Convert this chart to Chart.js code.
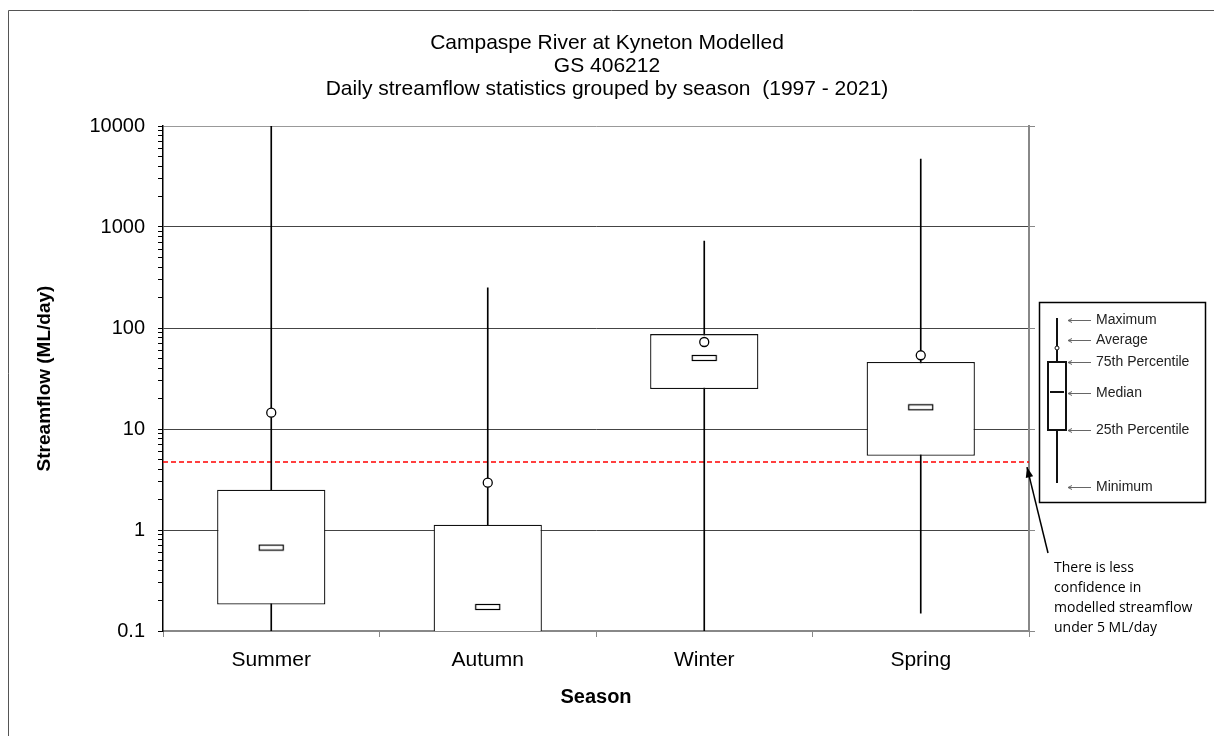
<!DOCTYPE html>
<html>
<head>
<meta charset="utf-8">
<title>Campaspe River at Kyneton Modelled</title>
<script src="https://cdn.jsdelivr.net/npm/chart.js@4.4.1/dist/chart.umd.min.js"></script>
<style>
  html, body { margin: 0; padding: 0; background: #fff; }
  #wrap { width: 1214px; height: 736px; }
</style>
</head>
<body>
<div id="wrap"><canvas id="myChart" width="1214" height="736"></canvas></div>
<script>
// daily streamflow statistics per season (ML/day)
const seasons = ['Summer', 'Autumn', 'Winter', 'Spring'];
const minimum = [0.05, 0.01, 0.05, 0.15];
const pct25 = [0.183, 0.05, 24.9, 5.44];
const median = [0.67, 0.173, 50.5, 16.4];
const pct75 = [2.5, 1.13, 87, 46];
const average = [14.5, 2.94, 72.7, 53.7];
const maximum = [10000, 250, 727, 4700];

const yTicks = [0.1, 1, 10, 100, 1000, 10000];
const yTickLabels = ['0.1', '1', '10', '100', '1000', '10000'];
const threshold = 4.7; // the "5 ML/day" confidence line

const titleLines = [
    'Campaspe River at Kyneton Modelled',
    'GS 406212',
    'Daily streamflow statistics grouped by season  (1997 - 2021)'
];
const noteLines = ['There is less', 'confidence in', 'modelled streamflow', 'under 5 ML/day'];
const keyLabels = ['Maximum', 'Average', '75th Percentile', 'Median', '25th Percentile', 'Minimum'];

const FONT = "'Liberation Sans', Arial, sans-serif";

// minor ticks 1..9 inside every decade, for the little marks on the left axis
const minorTicks = [];
yTicks.slice(0, -1).forEach(d => {
    for (let k = 1; k < 10; k++) minorTicks.push(d * k);
});
minorTicks.push(yTicks[yTicks.length - 1]);

// hollow little rectangle used as the median marker
const medianMark = document.createElement('canvas');
medianMark.width = 27;
medianMark.height = 8;
const mctx = medianMark.getContext('2d');
mctx.fillStyle = '#fff';
mctx.fillRect(1, 1, 25, 6);
mctx.strokeStyle = '#000';
mctx.lineWidth = 1.2;
mctx.strokeRect(1.5, 1.5, 24, 5);

// title, red dashed line, key box, note with arrow and the outer frame
const extras = {
    id: 'extras',
    beforeDatasetsDraw(chart) {
        const { ctx, chartArea: a, scales: { y } } = chart;
        const py = y.getPixelForValue(threshold);
        ctx.save();
        ctx.strokeStyle = '#ff0000';
        ctx.lineWidth = 1.5;
        ctx.setLineDash([5, 3]);
        ctx.beginPath();
        ctx.moveTo(a.left, py);
        ctx.lineTo(a.right, py);
        ctx.stroke();
        ctx.restore();
    },
    afterDraw(chart) {
        const { ctx, chartArea: a, scales: { y } } = chart;
        ctx.save();

        // outer frame (left and top edges only are visible)
        ctx.strokeStyle = '#555';
        ctx.lineWidth = 1;
        ctx.beginPath();
        ctx.moveTo(8.5, 736);
        ctx.lineTo(8.5, 10.5);
        ctx.lineTo(1214, 10.5);
        ctx.stroke();

        // title, centred on the whole picture
        ctx.fillStyle = '#000';
        ctx.font = '21px ' + FONT;
        ctx.textAlign = 'center';
        ctx.textBaseline = 'middle';
        titleLines.forEach((t, i) => ctx.fillText(t, chart.width / 2, 43 + i * 23));
        ctx.textAlign = 'left';

        // key box
        const kx = a.right + 10, ky = 302, kw = 166, kh = 200;
        ctx.strokeStyle = '#000';
        ctx.lineWidth = 1.5;
        ctx.strokeRect(kx + 0.5, ky + 0.5, kw, kh);

        const cx = kx + 18;
        ctx.lineWidth = 2;
        ctx.strokeStyle = '#111';
        ctx.beginPath();
        ctx.moveTo(cx, ky + 16);
        ctx.lineTo(cx, ky + 181);
        ctx.stroke();
        ctx.fillStyle = '#fff';
        ctx.fillRect(kx + 9, ky + 60, 18, 68);
        ctx.strokeRect(kx + 9, ky + 60, 18, 68);
        ctx.beginPath();
        ctx.moveTo(kx + 11, ky + 90);
        ctx.lineTo(kx + 25, ky + 90);
        ctx.stroke();
        ctx.lineWidth = 1;
        ctx.beginPath();
        ctx.arc(cx, ky + 46, 2, 0, Math.PI * 2);
        ctx.fill();
        ctx.stroke();

        const keyY = [18, 38, 60, 91, 128, 185];
        ctx.font = '14px ' + FONT;
        ctx.textBaseline = 'middle';
        keyLabels.forEach((lab, i) => {
            const ly = ky + keyY[i] + 0.5;
            ctx.strokeStyle = '#666';
            ctx.lineWidth = 1;
            ctx.beginPath();
            ctx.moveTo(kx + 29, ly);
            ctx.lineTo(kx + 52, ly);
            ctx.moveTo(kx + 33, ly - 2);
            ctx.lineTo(kx + 29, ly);
            ctx.lineTo(kx + 33, ly + 2);
            ctx.stroke();
            ctx.fillStyle = '#222';
            ctx.fillText(lab, kx + 57, ly);
        });

        // note and arrow pointing at the end of the red line
        const hx = a.right - 2, hy = y.getPixelForValue(threshold) + 5;
        const tx = a.right + 19, ty = 553;
        ctx.strokeStyle = '#000';
        ctx.fillStyle = '#000';
        ctx.lineWidth = 1.5;
        ctx.beginPath();
        ctx.moveTo(tx, ty);
        ctx.lineTo(hx, hy);
        ctx.stroke();
        const ang = Math.atan2(hy - ty, hx - tx);
        ctx.beginPath();
        ctx.moveTo(hx, hy);
        ctx.lineTo(hx - 11 * Math.cos(ang - 0.35), hy - 11 * Math.sin(ang - 0.35));
        ctx.lineTo(hx - 11 * Math.cos(ang + 0.35), hy - 11 * Math.sin(ang + 0.35));
        ctx.closePath();
        ctx.fill();

        ctx.font = "14px 'Open Sans', sans-serif";
        ctx.fillStyle = '#000';
        noteLines.forEach((t, i) => ctx.fillText(t, a.right + 25, 568 + i * 20));
        ctx.restore();
    }
};

const ctx = document.getElementById('myChart').getContext('2d');
const myChart = new Chart(ctx, {
    type: 'bar',
    data: {
        labels: seasons,
        datasets: [
            {
                // whiskers: minimum to maximum
                type: 'bar',
                yAxisID: 'y',
                data: seasons.map((s, i) => [minimum[i], maximum[i]]),
                backgroundColor: '#000',
                barThickness: 1,
                grouped: false,
                order: 4
            },
            {
                // 25th - 75th percentile box
                type: 'bar',
                yAxisID: 'y',
                data: seasons.map((s, i) => [pct25[i], pct75[i]]),
                backgroundColor: '#fff',
                borderColor: '#111',
                borderWidth: 1.3,
                borderSkipped: false,
                barPercentage: 0.5,
                categoryPercentage: 1,
                grouped: false,
                order: 3
            },
            {
                type: 'line',
                yAxisID: 'y',
                data: median,
                showLine: false,
                pointStyle: medianMark,
                pointRadius: 5,
                order: 2
            },
            {
                type: 'line',
                yAxisID: 'y',
                data: average,
                showLine: false,
                pointStyle: 'circle',
                pointRadius: 4.5,
                pointBackgroundColor: '#fff',
                pointBorderColor: '#000',
                pointBorderWidth: 1.3,
                order: 1
            }
        ]
    },
    options: {
        responsive: false,
        animation: false,
        devicePixelRatio: 1,
        layout: { padding: { left: 28, right: 175, top: 126, bottom: 0 } },
        plugins: {
            legend: { display: false },
            tooltip: { enabled: false },
            title: { display: false }
        },
        scales: {
            x: {
                offset: true,
                grid: { offset: true, drawOnChartArea: false, tickLength: 6, tickColor: '#888' },
                border: { color: '#888', width: 2 },
                ticks: { color: '#000', font: { family: FONT, size: 21 }, padding: 11 },
                title: {
                    display: true,
                    text: 'Season',
                    color: '#000',
                    font: { family: FONT, size: 20, weight: 'bold' },
                    padding: { top: 4, bottom: 27 }
                },
                afterFit: s => { s.height = 105; }
            },
            y: {
                type: 'logarithmic',
                position: 'left',
                min: yTicks[0],
                max: yTicks[yTicks.length - 1],
                afterBuildTicks: s => { s.ticks = minorTicks.map(v => ({ value: v })); },
                grid: {
                    color: c => {
                        const v = c.tick ? c.tick.value : null;
                        if (v === yTicks[yTicks.length - 1]) return '#999';
                        if (v === yTicks[0]) return 'rgba(0,0,0,0)';
                        return yTicks.includes(v) ? '#444' : 'rgba(0,0,0,0)';
                    },
                    lineWidth: 1,
                    tickLength: 5,
                    tickColor: '#000'
                },
                border: { color: '#000', width: 1.5 },
                ticks: {
                    autoSkip: false,
                    padding: 13,
                    color: '#000',
                    font: { family: FONT, size: 20 },
                    callback: v => {
                        const i = yTicks.indexOf(v);
                        return i >= 0 ? yTickLabels[i] : '';
                    }
                },
                title: {
                    display: true,
                    text: 'Streamflow (ML/day)',
                    color: '#000',
                    font: { family: FONT, size: 19, weight: 'bold' },
                    padding: { top: 5, bottom: 0 }
                },
                afterFit: s => { s.width = 135; }
            },
            y2: {
                type: 'logarithmic',
                position: 'right',
                min: yTicks[0],
                max: yTicks[yTicks.length - 1],
                afterBuildTicks: s => { s.ticks = yTicks.map(v => ({ value: v })); },
                grid: { drawOnChartArea: false, tickLength: 6, tickColor: '#888' },
                border: { color: '#888', width: 2 },
                ticks: { display: false },
                afterFit: s => { s.width = 10; }
            }
        }
    },
    plugins: [extras]
});
</script>
</body>
</html>
